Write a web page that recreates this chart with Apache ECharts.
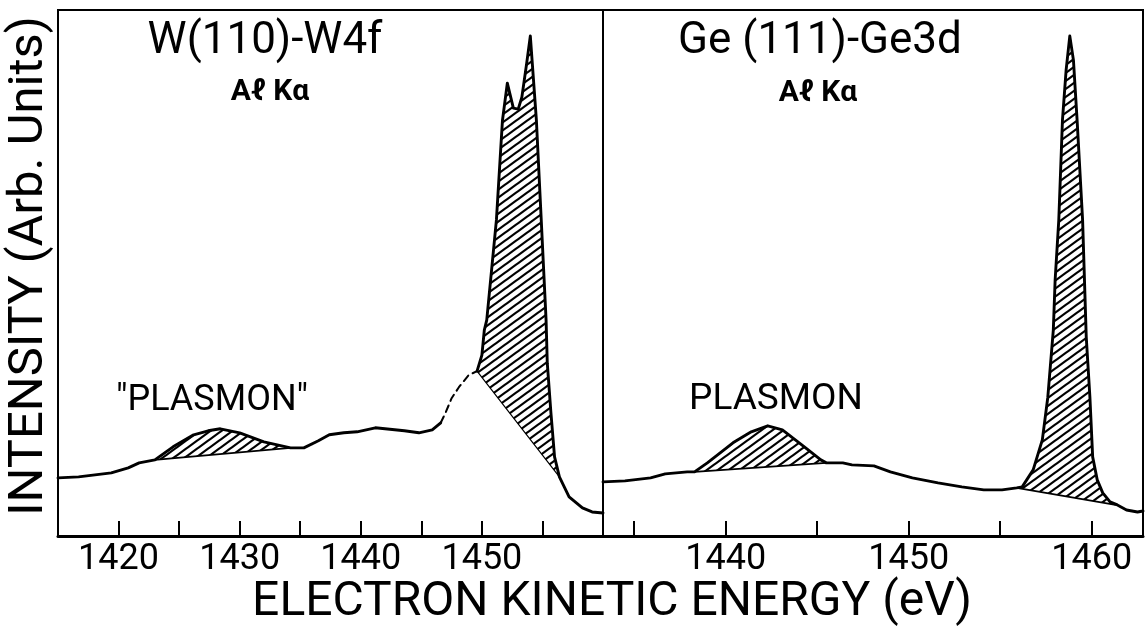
<!DOCTYPE html>
<html><head><meta charset="utf-8">
<script src="https://cdn.jsdelivr.net/npm/echarts@6/dist/echarts.min.js"></script>
<style>html,body{margin:0;padding:0;background:#fff}#c{width:1146px;height:629px}</style>
</head><body><div id="c"></div>
<script>
// ---- data (energy eV, intensity arb. units) ----
const wTickLabels = [1420, 1430, 1440, 1450];
const geTickLabels = [1440, 1450, 1460];

const wSolid = [[1415.0,11.6],[1416.7,11.8],[1419.4,12.6],[1420.8,13.6],[1421.7,14.6],[1423.0,15.2],[1424.5,17.8],[1426.2,20.2],[1427.4,21.0],[1428.4,21.4],[1430.0,20.6],[1432.0,18.8],[1434.2,17.6],[1435.3,17.6],[1436.5,19.0],[1437.4,20.2],[1438.6,20.6],[1439.7,20.8],[1441.2,21.6],[1443.6,21.0],[1444.8,20.6],[1445.9,21.2],[1446.6,22.6]];
const wDashed = [[1446.6,22.6],[1447.0,24.6],[1447.5,27.5],[1448.1,29.7],[1448.9,32.1],[1449.6,32.9]];
const wPeak = [[1449.6,32.9],[1450.0,36.1],[1450.2,41.1],[1450.4,43.1],[1451.2,63.1],[1451.7,83.0],[1452.1,90.4],[1452.6,85.4],[1453.0,85.2],[1453.3,87.6],[1453.7,94.4],[1454.0,99.8],[1454.5,83.0],[1454.9,63.1],[1455.3,43.1],[1455.4,34.5],[1455.7,24.6],[1456.0,15.8],[1456.4,11.8],[1456.8,9.8],[1457.2,7.8],[1458.3,5.6],[1459.1,4.8],[1460.0,4.6]];
const wPlasmonBase = [[1423.0,15.2],[1434.2,17.6]];
const wPeakBase = [[1449.6,32.9],[1456.4,11.8]];

const geCurve = [[1433.3,10.8],[1434.5,11.0],[1435.9,11.6],[1436.7,12.4],[1437.9,12.8],[1438.3,12.8],[1439.0,14.6],[1439.7,16.6],[1440.4,18.6],[1441.4,20.8],[1442.3,22.0],[1443.1,21.2],[1444.3,17.8],[1445.2,15.2],[1445.5,14.6],[1446.4,14.6],[1446.9,14.2],[1448.1,14.0],[1449.0,12.8],[1450.2,11.6],[1451.6,10.6],[1452.9,9.8],[1454.1,9.2],[1455.1,9.2],[1455.9,9.6],[1456.2,9.8],[1456.8,13.2],[1457.3,19.2],[1457.6,27.7],[1457.9,41.1],[1458.0,51.1],[1458.2,63.1],[1458.4,83.0],[1458.6,93.0],[1458.8,99.8],[1459.0,95.0],[1459.2,83.0],[1459.5,63.1],[1459.7,39.7],[1459.9,27.7],[1460.05,15.8],[1460.3,11.2],[1460.6,8.6],[1461.0,6.8],[1461.4,6.2],[1461.9,5.2],[1462.5,4.8],[1462.8,5.0]];
const gePlasmonBase = [[1438.3,12.8],[1445.5,14.6]];
const gePeakBase = [[1455.9,9.6],[1461.3,6.2]];

// ---- hatch pattern ----
function makeHatch() {
  const w = 11, h = 8;
  const c = document.createElement('canvas');
  c.width = w; c.height = h;
  const g = c.getContext('2d');
  g.strokeStyle = '#000'; g.lineWidth = 2.2;
  for (let k = -1; k <= 1; k++) {
    g.beginPath();
    g.moveTo(k * w - w, 2 * h);
    g.lineTo(k * w + 2 * w, -h);
    g.stroke();
  }
  return c;
}
const hatch = makeHatch();

function hatchSeries(curve, base, idx) {
  const pts = [base[0]].concat(curve.filter(p => p[0] > base[0][0] && p[0] < base[1][0]), [base[1]]);
  return {
    type: 'custom', xAxisIndex: idx, yAxisIndex: idx, z: 1, silent: true,
    data: [base[0]],
    renderItem: function (params, api) {
      return { type: 'polygon', shape: { points: pts.map(p => api.coord(p)) },
        style: { fill: { image: hatch, repeat: 'repeat' }, stroke: null } };
    }
  };
}
function lineSeries(data, idx, dashed, width) {
  return { type: 'line', xAxisIndex: idx, yAxisIndex: idx, data: data, z: 3, silent: true,
    showSymbol: false, symbol: 'none',
    lineStyle: { color: '#000', width: width || 2.9, type: dashed ? [7, 5] : 'solid', join: 'round', cap: 'round' } };
}
function xAxisCfg(idx, min, max, labels, extra) {
  return Object.assign({
    gridIndex: idx, type: 'value', min: min, max: max,
    axisLine: { show: true, onZero: false, lineStyle: { color: '#000', width: 3 } },
    axisTick: { show: true, inside: true, length: 15, lineStyle: { color: '#000', width: 2 } },
    axisLabel: { show: true, color: '#000', fontFamily: 'Roboto', fontSize: 36, margin: 6,
      formatter: v => labels.indexOf(Math.round(v * 100) / 100) >= 0 ? String(v) : '' },
    splitLine: { show: false }
  }, extra);
}

const wAll = wSolid.concat(wDashed, wPeak);
const chart = echarts.init(document.getElementById('c'), null, { renderer: 'canvas' });
const FONT = 'Roboto, "DejaVu Sans", sans-serif';
chart.setOption({
  animation: false,
  backgroundColor: '#fff',
  grid: [
    { left: 58, top: 10, width: 545, bottom: 93, show: true, borderColor: '#000', borderWidth: 2, backgroundColor: 'transparent' },
    { left: 603, top: 10, right: 3, bottom: 93, show: true, borderColor: '#000', borderWidth: 2, backgroundColor: 'transparent' }
  ],
  xAxis: [
    xAxisCfg(0, 1415, 1460, wTickLabels, { interval: 5 }),
    xAxisCfg(1, 1433.3, 1462.8, geTickLabels, { splitNumber: 6 })
  ],
  yAxis: [
    { gridIndex: 0, type: 'value', min: 0, max: 105, show: false },
    { gridIndex: 1, type: 'value', min: 0, max: 105, show: false }
  ],
  series: [
    hatchSeries(wAll, wPlasmonBase, 0),
    hatchSeries(wAll, wPeakBase, 0),
    hatchSeries(geCurve, gePlasmonBase, 1),
    hatchSeries(geCurve, gePeakBase, 1),
    lineSeries(wSolid, 0, false),
    lineSeries(wDashed, 0, true, 2),
    lineSeries(wPeak, 0, false),
    lineSeries(wPlasmonBase, 0, false, 1.8),
    lineSeries(wPeakBase, 0, false, 1.2),
    lineSeries(geCurve, 1, false),
    lineSeries(gePlasmonBase, 1, false, 1.8),
    lineSeries(gePeakBase, 1, false, 1.8)
  ],
  graphic: [
    { type: 'text', x: 265, y: 42, style: { text: 'W(110)-W4f', font: '44px ' + FONT, fill: '#000', align: 'center', verticalAlign: 'middle' } },
    { type: 'text', x: 270, y: 92, style: { text: 'Aℓ Kα', font: 'bold 30px ' + FONT, fill: '#000', align: 'center', verticalAlign: 'middle' } },
    { type: 'text', x: 820, y: 42, style: { text: 'Ge (111)-Ge3d', font: '44px ' + FONT, fill: '#000', align: 'center', verticalAlign: 'middle' } },
    { type: 'text', x: 818, y: 93, style: { text: 'Aℓ Kα', font: 'bold 30px ' + FONT, fill: '#000', align: 'center', verticalAlign: 'middle' } },
    { type: 'text', x: 212, y: 401, style: { text: '"PLASMON"', font: '36px ' + FONT, fill: '#000', align: 'center', verticalAlign: 'middle' } },
    { type: 'text', x: 776, y: 400, style: { text: 'PLASMON', font: '37px ' + FONT, fill: '#000', align: 'center', verticalAlign: 'middle' } },
    { type: 'text', x: 612, y: 603, style: { text: 'ELECTRON KINETIC ENERGY (eV)', font: '48px ' + FONT, fill: '#000', align: 'center', verticalAlign: 'middle' } },
    { type: 'text', x: 30, y: 266, rotation: Math.PI / 2, style: { text: 'INTENSITY (Arb. Units)', font: '49px ' + FONT, fill: '#000', align: 'center', verticalAlign: 'middle' } }
  ]
});
</script></body></html>
